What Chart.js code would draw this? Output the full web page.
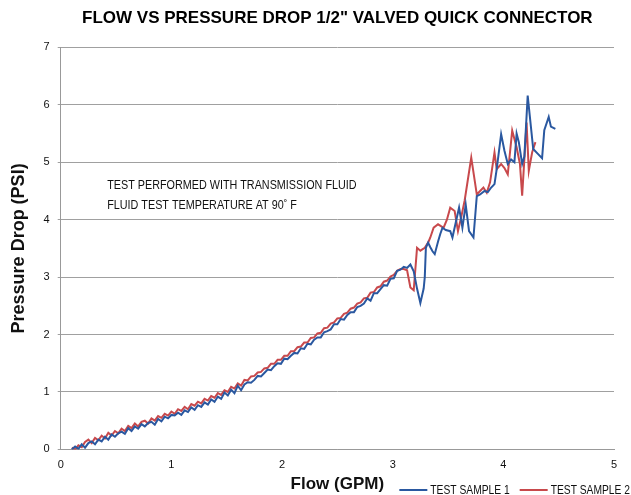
<!DOCTYPE html>
<html>
<head>
<meta charset="utf-8">
<script src="https://cdn.jsdelivr.net/npm/chart.js@4.4.1/dist/chart.umd.min.js"></script>
<style>
  html, body { margin: 0; padding: 0; background: #fff; }
  .chart-container { position: relative; width: 631px; height: 495px; }
</style>
</head>
<body>
<div class="chart-container"><canvas id="flowChart"></canvas></div>
<script>
const TITLE = 'FLOW VS PRESSURE DROP 1/2" VALVED QUICK CONNECTOR';
const NOTE_LINES = ['TEST PERFORMED WITH TRANSMISSION FLUID', 'FLUID TEST TEMPERATURE AT 90\u02DA F'];
const SERIES_NAMES = ['TEST SAMPLE 1', 'TEST SAMPLE 2'];
const X_TICKS = [0, 1, 2, 3, 4, 5];
const Y_TICKS = [0, 1, 2, 3, 4, 5, 6, 7];

const flow1 = [
  0.10, 0.13, 0.16, 0.19, 0.22, 0.25, 0.28, 0.31, 0.34, 0.37, 0.40, 0.43, 0.46, 0.49, 0.52, 0.55, 0.58, 0.61, 0.64, 0.67,
  0.70, 0.73, 0.76, 0.79, 0.82, 0.85, 0.88, 0.91, 0.94, 0.97, 1.00, 1.03, 1.06, 1.09, 1.12, 1.15, 1.18, 1.21, 1.24, 1.27,
  1.30, 1.33, 1.36, 1.39, 1.42, 1.45, 1.48, 1.51, 1.54, 1.57, 1.60, 1.63, 1.66, 1.69, 1.72, 1.75, 1.78, 1.81, 1.84, 1.87,
  1.90, 1.93, 1.96, 1.99, 2.02, 2.05, 2.08, 2.11, 2.14, 2.17, 2.20, 2.23, 2.26, 2.29, 2.32, 2.35, 2.38, 2.41, 2.44, 2.47,
  2.50, 2.53, 2.56, 2.59, 2.62, 2.65, 2.68, 2.71, 2.74, 2.77, 2.80, 2.83, 2.86, 2.89, 2.92, 2.95, 2.98, 3.01, 3.04, 3.07,
  3.10, 3.13, 3.16, 3.19, 3.22, 3.25, 3.28, 3.29, 3.30, 3.32, 3.34, 3.36, 3.38, 3.41, 3.43, 3.45, 3.48, 3.52, 3.54, 3.57,
  3.60, 3.63, 3.66, 3.69, 3.73, 3.76, 3.79, 3.83, 3.86, 3.89, 3.92, 3.94, 3.98, 4.01, 4.04, 4.07, 4.10, 4.12, 4.14, 4.17,
  4.19, 4.22, 4.27, 4.31, 4.35, 4.37, 4.41, 4.43, 4.47
];
const psi1 = [
  0.00, 0.05, 0.01, 0.09, 0.03, 0.11, 0.14, 0.09, 0.17, 0.14, 0.22, 0.17, 0.26, 0.22, 0.28, 0.31, 0.27, 0.37, 0.32, 0.40,
  0.36, 0.44, 0.40, 0.46, 0.48, 0.43, 0.53, 0.49, 0.57, 0.54, 0.60, 0.59, 0.64, 0.60, 0.68, 0.65, 0.73, 0.69, 0.77, 0.74,
  0.82, 0.78, 0.87, 0.83, 0.92, 0.88, 0.99, 0.94, 1.04, 0.98, 1.11, 1.03, 1.13, 1.17, 1.16, 1.21, 1.28, 1.27, 1.33, 1.39,
  1.38, 1.45, 1.50, 1.49, 1.58, 1.57, 1.63, 1.68, 1.67, 1.76, 1.75, 1.84, 1.83, 1.91, 1.95, 1.95, 2.04, 2.06, 2.09, 2.18,
  2.18, 2.27, 2.26, 2.34, 2.39, 2.39, 2.48, 2.50, 2.54, 2.63, 2.59, 2.72, 2.72, 2.79, 2.86, 2.85, 2.97, 2.98, 3.11, 3.13,
  3.18, 3.16, 3.22, 3.10, 2.80, 2.55, 2.80, 3.00, 3.51, 3.60, 3.52, 3.45, 3.40, 3.62, 3.75, 3.86, 3.82, 3.80, 3.69, 3.95,
  4.21, 3.86, 4.26, 3.80, 3.69, 4.41, 4.44, 4.50, 4.48, 4.56, 4.62, 4.88, 5.49, 5.20, 4.97, 5.05, 5.00, 5.50, 5.35, 4.97,
  5.10, 6.16, 5.23, 5.15, 5.07, 5.56, 5.79, 5.62, 5.58
];

const flow2 = [
  0.10, 0.13, 0.16, 0.19, 0.22, 0.25, 0.28, 0.31, 0.34, 0.37, 0.40, 0.43, 0.46, 0.49, 0.52, 0.55, 0.58, 0.61, 0.64, 0.67,
  0.70, 0.73, 0.76, 0.79, 0.82, 0.85, 0.88, 0.91, 0.94, 0.97, 1.00, 1.03, 1.06, 1.09, 1.12, 1.15, 1.18, 1.21, 1.24, 1.27,
  1.30, 1.33, 1.36, 1.39, 1.42, 1.45, 1.48, 1.51, 1.54, 1.57, 1.60, 1.63, 1.66, 1.69, 1.72, 1.75, 1.78, 1.81, 1.84, 1.87,
  1.90, 1.93, 1.96, 1.99, 2.02, 2.05, 2.08, 2.11, 2.14, 2.17, 2.20, 2.23, 2.26, 2.29, 2.32, 2.35, 2.38, 2.41, 2.44, 2.47,
  2.50, 2.53, 2.56, 2.59, 2.62, 2.65, 2.68, 2.71, 2.74, 2.77, 2.80, 2.83, 2.86, 2.89, 2.92, 2.95, 2.98, 3.01, 3.04, 3.07,
  3.10, 3.13, 3.16, 3.19, 3.22, 3.25, 3.29, 3.32, 3.34, 3.37, 3.41, 3.46, 3.49, 3.52, 3.56, 3.59, 3.62, 3.65, 3.71, 3.76,
  3.79, 3.82, 3.85, 3.88, 3.92, 3.94, 3.98, 4.01, 4.04, 4.08, 4.12, 4.15, 4.17, 4.21, 4.23, 4.26, 4.29
];
const psi2 = [
  0.03, 0.00, 0.07, 0.04, 0.13, 0.17, 0.11, 0.20, 0.16, 0.24, 0.19, 0.29, 0.24, 0.32, 0.28, 0.36, 0.32, 0.41, 0.37, 0.45,
  0.40, 0.48, 0.50, 0.45, 0.54, 0.50, 0.58, 0.55, 0.62, 0.59, 0.66, 0.62, 0.70, 0.67, 0.74, 0.70, 0.79, 0.76, 0.83, 0.80,
  0.88, 0.85, 0.93, 0.90, 0.98, 0.95, 1.03, 1.00, 1.09, 1.06, 1.15, 1.11, 1.21, 1.20, 1.27, 1.28, 1.34, 1.35, 1.41, 1.42,
  1.49, 1.49, 1.56, 1.56, 1.63, 1.63, 1.71, 1.71, 1.78, 1.79, 1.86, 1.86, 1.94, 1.95, 2.02, 2.03, 2.11, 2.12, 2.19, 2.21,
  2.28, 2.29, 2.36, 2.38, 2.45, 2.47, 2.54, 2.56, 2.63, 2.64, 2.73, 2.74, 2.82, 2.84, 2.92, 2.94, 3.01, 3.04, 3.11, 3.14,
  3.14, 3.12, 2.82, 2.77, 3.51, 3.46, 3.51, 3.60, 3.69, 3.86, 3.92, 3.86, 4.00, 4.21, 4.15, 3.80, 4.05, 4.33, 5.08, 4.44,
  4.50, 4.56, 4.47, 4.65, 5.17, 4.88, 4.97, 4.90, 4.79, 5.55, 5.26, 4.97, 4.42, 5.69, 4.85, 5.17, 5.35
];

const COLORS = ['#2a58a0', '#c8494c'];
const FONT = "'Liberation Sans', Arial, sans-serif";
const SQUEEZE = 0.83;
const LEGEND_SQUEEZE = 0.79;

const toPoints = (xs, ys) => xs.map((x, i) => ({ x, y: ys[i] }));

// narrow text drawn by squeezing the canvas horizontally
function narrowText(ctx, text, x, y, squeeze = SQUEEZE) {
  ctx.save();
  ctx.translate(x, y);
  ctx.scale(squeeze, 1);
  ctx.fillText(text, 0, 0);
  ctx.restore();
}

const notePlugin = {
  id: 'note',
  afterDatasetsDraw(chart) {
    const { ctx, scales } = chart;
    const x = scales.x.getPixelForValue(0.42);
    const y = scales.y.getPixelForValue(4.6);
    ctx.save();
    ctx.fillStyle = '#111';
    ctx.font = `13px ${FONT}`;
    ctx.textBaseline = 'middle';
    NOTE_LINES.forEach((line, i) => narrowText(ctx, line, x, y + i * 20));
    ctx.restore();
  },
};

const legendPlugin = {
  id: 'sampleLegend',
  afterDraw(chart) {
    const { ctx } = chart;
    const sets = chart.data.datasets;
    const y = chart.height - 5;
    ctx.save();
    ctx.font = `13px ${FONT}`;
    ctx.textBaseline = 'middle';
    let right = chart.width - 1;
    for (let i = sets.length - 1; i >= 0; i--) {
      const w = ctx.measureText(sets[i].label).width * LEGEND_SQUEEZE;
      const textX = right - w;
      ctx.fillStyle = '#111';
      narrowText(ctx, sets[i].label, textX, y, LEGEND_SQUEEZE);
      ctx.strokeStyle = sets[i].borderColor;
      ctx.lineWidth = 2;
      ctx.beginPath();
      ctx.moveTo(textX - 31, y);
      ctx.lineTo(textX - 3, y);
      ctx.stroke();
      right = textX - 41;
    }
    ctx.restore();
  },
};

new Chart(document.getElementById('flowChart'), {
  type: 'scatter',
  data: {
    datasets: [
      {
        label: SERIES_NAMES[0],
        data: toPoints(flow1, psi1),
        showLine: true,
        borderColor: COLORS[0],
        backgroundColor: COLORS[0],
        borderWidth: 2,
        pointRadius: 0,
      },
      {
        label: SERIES_NAMES[1],
        data: toPoints(flow2, psi2),
        showLine: true,
        borderColor: COLORS[1],
        backgroundColor: COLORS[1],
        borderWidth: 2,
        pointRadius: 0,
      },
    ],
  },
  options: {
    responsive: true,
    maintainAspectRatio: false,
    animation: false,
    layout: { padding: { left: 4, right: 17, top: 4, bottom: 0 } },
    plugins: {
      title: {
        display: true,
        fullSize: false,
        text: TITLE,
        color: '#000',
        font: { family: FONT, size: 17, weight: 'bold' },
        padding: { top: 4, bottom: 19 },
      },
      legend: { display: false },
      tooltip: { enabled: false },
    },
    scales: {
      x: {
        type: 'linear',
        min: 0,
        max: 5,
        afterBuildTicks(axis) {
          axis.ticks = X_TICKS.map((value) => ({ value }));
        },
        grid: { display: false, drawTicks: false },
        border: { color: '#999', width: 1 },
        ticks: {
          color: '#111',
          font: { family: FONT, size: 11 },
          padding: 9,
        },
        title: {
          display: true,
          text: 'Flow (GPM)',
          color: '#111',
          font: { family: FONT, size: 17, weight: 'bold' },
          padding: { top: -6, bottom: 0 },
        },
      },
      y: {
        min: 0,
        max: 7,
        afterBuildTicks(axis) {
          axis.ticks = Y_TICKS.map((value) => ({ value }));
        },
        grid: { color: '#a0a0a0', lineWidth: 1, tickLength: 3 },
        border: { color: '#999', width: 1 },
        ticks: {
          color: '#111',
          font: { family: FONT, size: 11 },
          padding: 8,
        },
        title: {
          display: true,
          text: 'Pressure Drop (PSI)',
          color: '#111',
          font: { family: FONT, size: 18, weight: 'bold' },
          padding: { top: 4, bottom: 6 },
        },
      },
    },
  },
  plugins: [notePlugin, legendPlugin],
});
</script>
</body>
</html>
